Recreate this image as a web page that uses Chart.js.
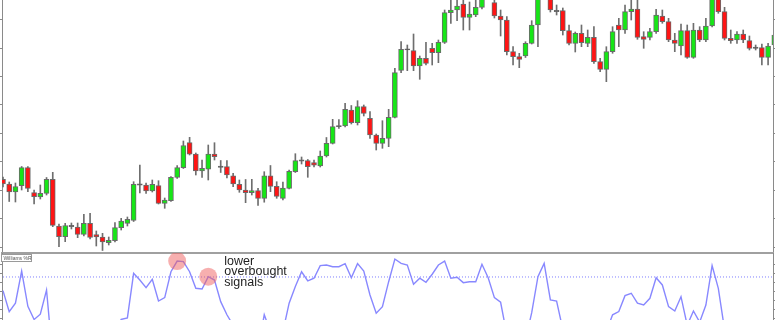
<!DOCTYPE html>
<html><head><meta charset="utf-8">
<script src="https://cdn.jsdelivr.net/npm/chart.js@4.4.1/dist/chart.umd.min.js"></script>
<style>
html,body{margin:0;padding:0;background:#fff;overflow:hidden;width:775px;height:320px}
#top{position:absolute;left:0;top:0}
#bot{position:absolute;left:0;top:251px}
</style></head><body>
<canvas id="top" width="775" height="252"></canvas>
<canvas id="bot" width="775" height="69"></canvas>
<script>
// ---- data (price units are read off the picture, no axis labels visible) ----
const openP = [71.7,67,59,65.3,83.3,58.3,54,57.7,71.7,25,
 14.3,25,24,16.7,27.7,16.3,14,8.3,10.3,23.3,
 27.7,30.5,66.5,66,60,65.3,47.7,50.3,73.5,83.3,
 108.3,97,80.2,81.8,97,84.2,84.3,75.2,66.7,61,
 58.3,60.3,52.7,75.2,64.7,52.7,62.7,79.3,90.5,90.3,
 88.3,85,95,107.7,124.9,125,141,128.3,144.3,132.7,
 116,107.7,112.7,133.7,180.7,201.6,200.3,185,192.7,202.7,
 198.3,208.5,238.3,241,247,233.7,236,243.7,262,248.3,
 235,231,199.3,194.3,195,207.7,226,256,253,240,
 240.3,220.3,207.7,217.7,207.7,213.7,189.3,181.7,199.3,226,
 221,239.3,242,214.3,213.7,219.3,235,229.3,211,205,
 220.3,193.7,221,211,225,253,239.3,212.7,211,217,
 210.3,203.2,203.3,193.7,206];
const closeP = [67,59,64.5,83.3,62.7,54.3,57.7,71.7,25.7,14.3,
 25.5,25,16.7,27.7,13.5,14,9,10.7,23.3,30,
 31.7,66.7,66.5,60,66.7,47.7,51,73.7,83.3,105.5,
 96.8,80.2,82.7,96.8,94.3,84.2,76,67,61,58.3,
 60.3,52.7,75.2,64.7,54.7,63,79.7,90.3,90.5,84.3,
 85.8,95,107.7,124.3,124.9,141.7,128.3,144.3,137.7,116,
 107.7,112.7,133.7,178.3,201.7,201.6,185,192.7,187.7,198.3,
 208.7,238.3,241,245,233.7,237,243.7,253,255,235,
 231,199.3,194.3,191.7,207.7,226,254,265,241,240,
 220.3,207.7,217.7,208.3,213.7,189.3,181.7,199.3,219.3,221,
 239.3,242,213.7,211.7,219.3,236,229.3,211,207.7,220.3,
 193.7,221,211,225,253,239.3,212.7,210.3,217,211,
 202.7,203.2,193.7,205,216];
const highP = [74,69,68,84.5,84.5,61,66,73.5,78.7,27,
 27.7,28,28,36.7,37.7,20,17.7,14,28.3,32.7,
 34,69.3,86,68,71,70.3,53,74.5,85.3,110,
 113.7,98,91,106,108.3,90.5,90.3,77.7,71,71.5,
 71.7,62.7,79.3,85.5,69.3,69,81,97.3,94,91.5,
 91,100,113.5,131.7,131.5,147.7,145.5,150.3,146,139.3,
 117,130.3,141.7,182.7,209.3,206,217,195,208.7,207.7,
 211,241,254,254,254,249,254,256,266,256,
 241,234.3,204.3,197.7,209.3,230.3,257,270,256,246,
 243,226,219,226,221,224.3,192.7,204.3,224.3,232.7,
 246,254,254,219.3,222.7,241.7,241,232.7,217.7,227,
 226,227.7,224.3,232.7,256,256,243.7,221,219.3,221,
 215,206,207,207.7,218];
const lowP = [64,49.5,49,61,59.3,47,52,56,24.3,4.3,
 9.3,22,13.3,15,12,5,0.5,6,9,21,
 25,29.5,58,57.7,59,47,42.7,49.5,72.5,82.5,
 96,76,73.7,71,91,78.5,73.2,64.3,58.7,48.3,
 56,45.5,48.8,59.3,52.7,51,62,78.5,87,73.7,
 84,84,94,107,122.5,124,127,126,135,112.7,
 101,102.7,104.3,133,178.3,180.3,180.3,171.7,186,186,
 188.3,207.5,227.7,230.3,221,221,234.3,242,252.5,233,
 215,196,186,183.3,193.5,207,204.3,253,239,236,
 216,206,199,204.3,204.3,187.7,179.3,169.3,197.7,204.3,
 217.7,231,211.7,202.7,211,217.7,227.7,209.3,199.3,196,
 192.7,192.7,209.3,209.3,224,237.7,211,207.7,207.7,208.3,
 201,201,186,186,204];
const wpr = [-33,-53,-45,-14.3,-48,-60.5,-55.5,-32.4,-98,-88,
 -74,-74,-85,-71,-88,-88,-90,-88,-71,-60.5,
 -59,-16.5,-22.9,-30.2,-22.2,-42.9,-39.7,-15,-4.8,-5.4,
 -15,-30.8,-31.4,-19.7,-22.9,-43.5,-56,-66,-74,-78,
 -82,-89,-56,-72,-85,-72,-45,-29,-15,-23.8,
 -21.2,-9.2,-8.6,-10.2,-10.2,-7.3,-20.7,-7.3,-14.3,-37.1,
 -54.6,-48.3,-24.5,-2.9,-7,-8.6,-27,-21.2,-25,-17.4,
 -8.6,-4.8,-21.2,-20.3,-25.4,-24.5,-24.5,-7.9,-20.7,-39.7,
 -44.1,-75,-80,-85,-80,-54,-19.7,-7,-41.9,-42.9,
 -70,-85,-78,-80,-77,-95,-98,-72,-56,-53,
 -37.8,-35.5,-45,-46.7,-40.3,-20.7,-27.6,-48.3,-52.4,-38.8,
 -66,-52.4,-63,-46.7,-9.2,-30.8,-70,-75,-70,-72,
 -82,-85,-95,-85,-68];
const signalIdx = [28, 33];
const overboughtLevel = -20;
const priceTicks = [4, 32.4, 60.8, 89.2, 117.6, 146, 174.4, 202.8, 231.2];
const wprTicks = [-8.5, -17, -25.5, -34, -42.5, -51, -59.5];
const annotationLines = ['lower', 'overbought', 'signals'];
const indicatorName = 'Williams %R';
const categories = openP.map((_, i) => i);

// ---- styling ----
const X_MIN = -0.16, X_MAX = 123.79;
const GREEN = '#16e616', RED = '#ff1414', DOJI = '#505050';

function sideAxis(pos, min, max, ticks) {
  return {
    position: pos, min: min, max: max,
    grid: {display: true, drawOnChartArea: false, drawTicks: true, tickLength: 2, color: '#8a8a8a'},
    border: {display: true, color: '#8a8a8a', width: 1},
    ticks: {display: false},
    afterBuildTicks: s => { s.ticks = ticks.map(v => ({value: v})); }
  };
}

const bodies = categories.map(i => {
  const o = openP[i], c = closeP[i];
  return {x: i, y: o === c ? [o - 0.6, o + 0.6] : [o, c]};
});
const bodyColors = categories.map(i => closeP[i] > openP[i] ? GREEN : (closeP[i] < openP[i] ? RED : DOJI));
const wicks = categories.map(i => ({x: i, y: [lowP[i], highP[i]]}));

new Chart(document.getElementById('top'), {
  type: 'bar',
  data: {
    datasets: [
      {data: bodies, backgroundColor: bodyColors, borderColor: '#6a6a6a', borderWidth: 1,
       borderSkipped: false, barThickness: 5, grouped: false, order: 0},
      {data: wicks, backgroundColor: '#6e6e6e', borderWidth: 0, barThickness: 1, grouped: false, order: 1}
    ]
  },
  options: {
    responsive: false, animation: false, devicePixelRatio: 1,
    layout: {padding: 0, autoPadding: false},
    plugins: {legend: {display: false}, tooltip: {enabled: false}},
    scales: {
      x: {type: 'linear', min: X_MIN, max: X_MAX, offset: false, display: false},
      y: sideAxis('left', -1, 251, priceTicks),
      yR: sideAxis('right', -1, 251, priceTicks)
    }
  }
});

const overlay = {
  id: 'overlay',
  afterDatasetsDraw(chart) {
    const {ctx, chartArea, scales} = chart;
    ctx.save();
    ctx.fillStyle = '#fff';
    ctx.strokeStyle = '#9a9a9a';
    ctx.lineWidth = 1;
    ctx.fillRect(chartArea.left - 0.5, chartArea.top + 1.5, 30, 7);
    ctx.strokeRect(chartArea.left - 0.5, chartArea.top + 1.5, 30, 7);
    ctx.font = '5px "Liberation Sans", Arial, sans-serif';
    ctx.fillStyle = '#555';
    ctx.textBaseline = 'alphabetic';
    ctx.fillText(indicatorName, chartArea.left + 1.5, chartArea.top + 7);
    ctx.font = '12.5px "Liberation Sans", Arial, sans-serif';
    ctx.fillStyle = '#1e1e1e';
    const x0 = scales.x.getPixelForValue(signalIdx[1]) + 16;
    annotationLines.forEach((t, k) => ctx.fillText(t, x0, chartArea.top + 12 + k * 10.3));
    ctx.restore();
  }
};

new Chart(document.getElementById('bot'), {
  type: 'line',
  data: {
    datasets: [
      {data: signalIdx.map(i => ({x: i, y: wpr[i]})), showLine: false, pointRadius: 9,
       pointBackgroundColor: 'rgba(240,95,95,0.5)', pointBorderWidth: 0, order: 0},
      {data: categories.map(i => ({x: i, y: wpr[i]})), borderColor: '#8888ff', borderWidth: 1.4,
       pointRadius: 0, tension: 0, order: 1},
      {data: categories.map(i => ({x: i, y: overboughtLevel})), borderColor: '#7c7cff', borderWidth: 1,
       borderDash: [1, 2], pointRadius: 0, order: 2}
    ]
  },
  options: {
    responsive: false, animation: false, devicePixelRatio: 1,
    layout: {padding: {top: 2, left: 0, right: 0, bottom: 0}, autoPadding: false},
    plugins: {legend: {display: false}, tooltip: {enabled: false}},
    scales: {
      x: {type: 'linear', min: X_MIN, max: X_MAX, offset: false, position: 'top',
          grid: {display: false, drawTicks: false}, ticks: {display: false},
          border: {display: true, color: '#a0a0a0', width: 2}},
      y: sideAxis('left', -61, 2.86, wprTicks),
      yR: sideAxis('right', -61, 2.86, wprTicks)
    }
  },
  plugins: [overlay]
});
</script>
</body></html>
